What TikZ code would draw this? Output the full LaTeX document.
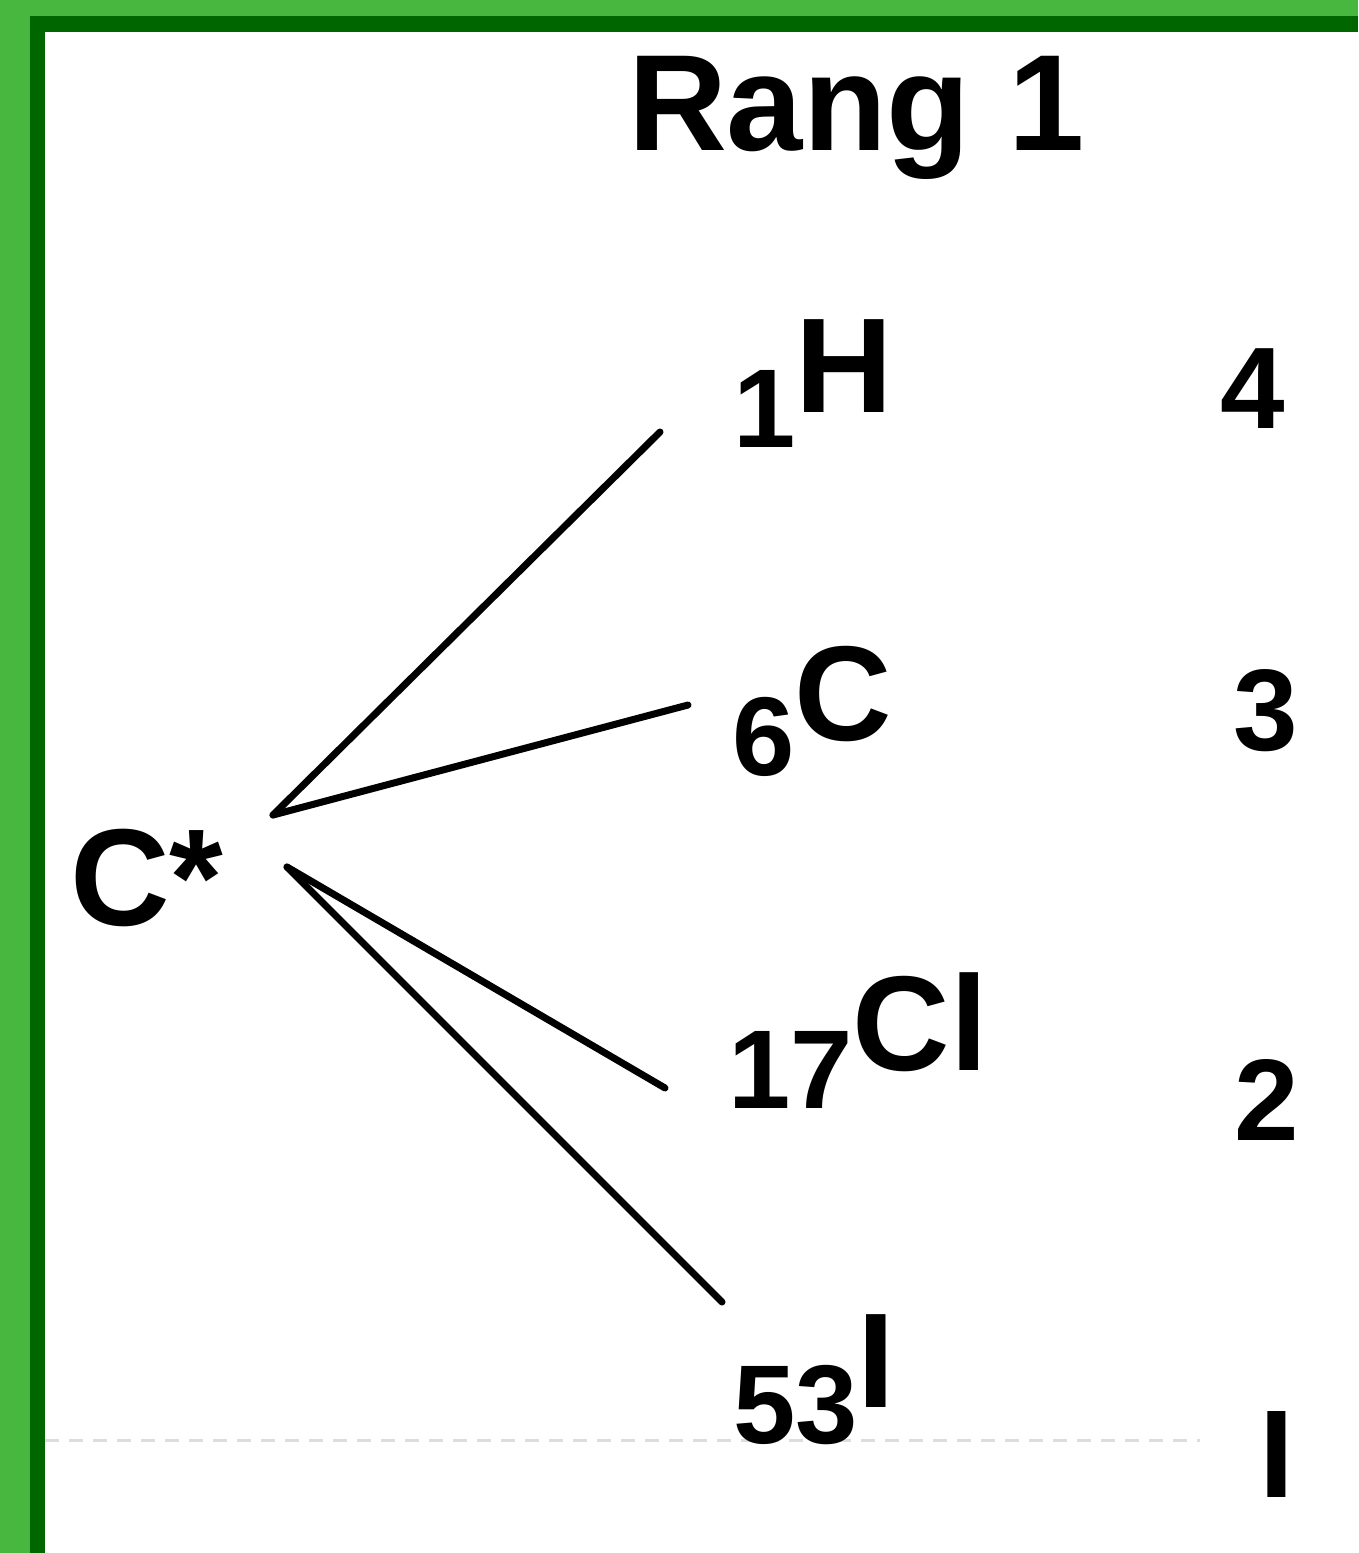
\documentclass[tikz,border=0pt]{standalone}
\usepackage{fontspec}
\setmainfont{Liberation Sans}
\definecolor{frameLight}{HTML}{48B73F}
\definecolor{frameDark}{HTML}{006600}
\definecolor{guide}{HTML}{DCDCDC}
\newcommand{\atomlabel}[3]{{\fontsize{112}{112}\selectfont\raisebox{-#3pt}{#1}}#2}
\begin{document}
\begin{tikzpicture}[x=1pt,y=1pt,
  txt/.style={inner sep=0pt,outer sep=0pt,anchor=base west,font=\bfseries\fontsize{135}{135}\selectfont},
  rank/.style={inner sep=0pt,outer sep=0pt,anchor=base west,font=\bfseries\fontsize{116}{116}\selectfont},
  bond/.style={line width=7pt,line cap=round,black}]
\useasboundingbox (0,0) rectangle (1358,-1553);
\fill[white] (0,0) rectangle (1358,-1553);
% frame
\fill[frameLight] (0,0) rectangle (30,-1553);
\fill[frameLight] (0,0) rectangle (1358,-16);
\fill[frameDark] (30,-16) rectangle (45,-1553);
\fill[frameDark] (30,-16) rectangle (1358,-32);
% faint guide line
\draw[guide,line width=3pt,dash pattern=on 14pt off 10pt] (45,-1440) -- (1200,-1440);
% title
\node[txt,font=\bfseries\fontsize{137}{137}\selectfont] (title) at (628,-150) {Rang 1};
% stereocentre and substituents
\node[txt,font=\bfseries\fontsize{138}{138}\selectfont] (cstar) at (70,-925) {C*};
\node[txt] (h) at (733,-412) {\atomlabel{1}{H}{35}};
\node[txt] (c) at (732,-740) {\atomlabel{6}{C}{35}};
\node[txt] (cl) at (728,-1070) {\atomlabel{17}{Cl}{38}};
\node[txt] (i) at (733,-1407) {\atomlabel{53}{I}{36}};
% priority ranks
\node[rank] (r4) at (1220,-428) {4};
\node[rank] (r3) at (1233,-750) {3};
\node[rank] (r2) at (1234,-1140) {2};
\node[rank,font=\bfseries\fontsize{125}{125}\selectfont] (r1) at (1259,-1497) {I};
% bonds
\coordinate (hubA) at (273,-815);
\coordinate (hubB) at (287,-867);
\coordinate (endH) at (660,-432);
\coordinate (endC) at (688,-705);
\coordinate (endCl) at (665,-1088);
\coordinate (endI) at (722,-1302);
\draw[bond] (hubA) -- (endH);
\draw[bond] (hubA) -- (endC);
\draw[bond] (hubB) -- (endCl);
\draw[bond] (hubB) -- (endI);
\end{tikzpicture}
\end{document}
